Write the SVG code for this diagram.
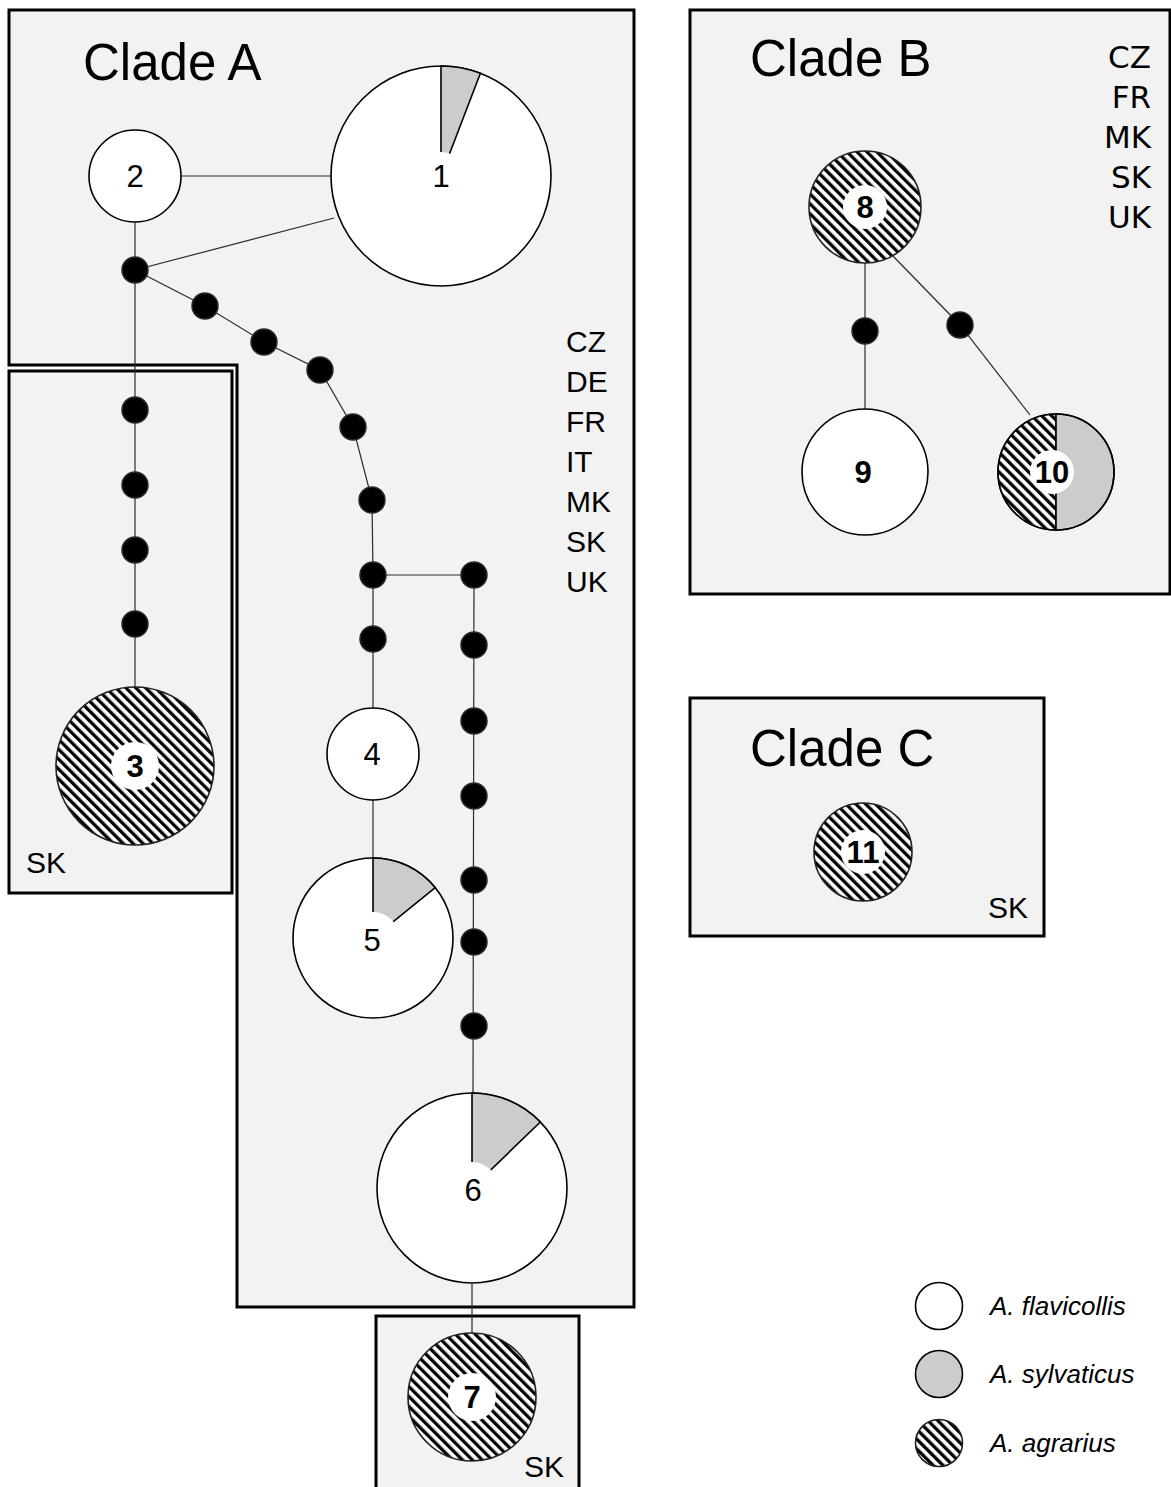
<svg xmlns="http://www.w3.org/2000/svg" width="1171" height="1487" viewBox="0 0 1171 1487">
  <style>
    .box { fill: #f2f2f2; stroke: #000; stroke-width: 3; }
    .edge { fill: none; stroke: #2b2b2b; stroke-width: 1.2; }
    .dot { fill: #000; stroke: #2a2a2a; stroke-width: 1.5; }
    .node { fill: #fff; stroke: #000; stroke-width: 1.6; }
    .hatched { fill: url(#hatch); stroke: #222; stroke-width: 1.6; }
    .grey { fill: #cccccc; stroke: #000; stroke-width: 1.6; }
    .hole { fill: #fff; stroke: none; }
    .title { font-family: "Liberation Sans", Arial, sans-serif; font-size: 51px; fill: #000; }
    .country { font-family: "Liberation Sans", Arial, sans-serif; font-size: 30px; fill: #000; }
    .countryB { font-family: "DejaVu Sans", sans-serif; font-size: 31px; fill: #000; text-anchor: end; }
    .lbl { font-family: "Liberation Sans", Arial, sans-serif; font-size: 31px; fill: #000; text-anchor: middle; }
    .lblb { font-family: "Liberation Sans", Arial, sans-serif; font-size: 31px; font-weight: bold; fill: #000; text-anchor: middle; }
    .legend { font-family: "Liberation Sans", Arial, sans-serif; font-size: 26px; font-style: italic; fill: #000; }
  </style>
  <defs>
    <pattern id="hatch" patternUnits="userSpaceOnUse" width="7" height="7" patternTransform="rotate(-45)">
      <rect x="0" y="0" width="7" height="7" fill="#fff"/>
      <rect x="0" y="0" width="3.3" height="7" fill="#000"/>
    </pattern>
  </defs>

  <!-- clade boxes -->
  <g id="clade-a-box">
    <polygon class="box" points="9,10 634,10 634,1307 237,1307 237,365 9,365"/>
  </g>
  <g id="sk-box-3">
    <rect class="box" x="9" y="371" width="223" height="522"/>
  </g>
  <g id="sk-box-7">
    <rect class="box" x="376" y="1316" width="203" height="180"/>
  </g>
  <g id="clade-b-box">
    <rect class="box" x="690" y="10" width="480" height="584"/>
  </g>
  <g id="clade-c-box">
    <rect class="box" x="690" y="698" width="354" height="238"/>
  </g>

  <!-- headings and country lists -->
  <g id="labels">
    <text class="title" x="83" y="80">Clade A</text>
    <text class="title" x="750" y="76">Clade B</text>
    <text class="title" x="750" y="766">Clade C</text>
    <text class="country" x="566" y="352">CZ</text>
    <text class="country" x="566" y="392">DE</text>
    <text class="country" x="566" y="432">FR</text>
    <text class="country" x="566" y="472">IT</text>
    <text class="country" x="566" y="512">MK</text>
    <text class="country" x="566" y="552">SK</text>
    <text class="country" x="566" y="592">UK</text>
    <text class="countryB" x="1151" y="68">CZ</text>
    <text class="countryB" x="1151" y="108">FR</text>
    <text class="countryB" x="1151" y="148">MK</text>
    <text class="countryB" x="1151" y="188">SK</text>
    <text class="countryB" x="1151" y="228">UK</text>
    <text class="country" x="26" y="873">SK</text>
    <text class="country" x="524" y="1477">SK</text>
    <text class="country" x="988" y="918">SK</text>
  </g>

  <!-- connectors -->
  <g id="connectors">
    <line class="edge" x1="181" y1="176" x2="331" y2="176"/>
    <line class="edge" x1="135" y1="270" x2="334" y2="218"/>
    <line class="edge" x1="135" y1="222" x2="135" y2="688"/>
    <polyline class="edge" points="135,270 205,306 264,342 320,370 353,427 372,500 373,575 373,708"/>
    <line class="edge" x1="373" y1="575" x2="474" y2="575"/>
    <line class="edge" x1="373" y1="800" x2="373" y2="858"/>
    <line class="edge" x1="474" y1="575" x2="473" y2="1093"/>
    <line class="edge" x1="472" y1="1284" x2="472" y2="1334"/>
    <line class="edge" x1="865" y1="263" x2="865" y2="410"/>
    <polyline class="edge" points="893,256 960,325 1030,415"/>
  </g>

  <!-- median vectors (unsampled haplotypes) -->
  <g id="median-vectors">
    <circle class="dot" cx="135" cy="270" r="13"/>
    <circle class="dot" cx="205" cy="306" r="13"/>
    <circle class="dot" cx="264" cy="342" r="13"/>
    <circle class="dot" cx="320" cy="370" r="13"/>
    <circle class="dot" cx="353" cy="427" r="13"/>
    <circle class="dot" cx="372" cy="500" r="13"/>
    <circle class="dot" cx="373" cy="575" r="13"/>
    <circle class="dot" cx="474" cy="575" r="13"/>
    <circle class="dot" cx="373" cy="639" r="13"/>
    <circle class="dot" cx="474" cy="645" r="13"/>
    <circle class="dot" cx="474" cy="721" r="13"/>
    <circle class="dot" cx="474" cy="796" r="13"/>
    <circle class="dot" cx="474" cy="880" r="13"/>
    <circle class="dot" cx="474" cy="942" r="13"/>
    <circle class="dot" cx="474" cy="1026" r="13"/>
    <circle class="dot" cx="135" cy="410" r="13"/>
    <circle class="dot" cx="135" cy="485" r="13"/>
    <circle class="dot" cx="135" cy="550" r="13"/>
    <circle class="dot" cx="135" cy="624" r="13"/>
    <circle class="dot" cx="865" cy="331" r="13"/>
    <circle class="dot" cx="960" cy="325" r="13"/>
  </g>

  <!-- haplotypes -->
  <g id="node-1">
    <circle class="node" cx="441" cy="176" r="110"/>
    <path class="grey" d="M441,176 L441,66 A110,110 0 0 1 480.4,73.3 Z"/>
    <circle class="hole" cx="441" cy="176" r="24"/>
    <text class="lbl" x="441" y="187">1</text>
  </g>
  <g id="node-2">
    <circle class="node" cx="135" cy="176" r="46"/>
    <text class="lbl" x="135" y="187">2</text>
  </g>
  <g id="node-3">
    <circle class="hatched" cx="135" cy="766" r="79"/>
    <circle class="hole" cx="135" cy="766" r="24"/>
    <text class="lblb" x="135" y="777">3</text>
  </g>
  <g id="node-4">
    <circle class="node" cx="373" cy="754" r="46"/>
    <text class="lbl" x="372" y="765">4</text>
  </g>
  <g id="node-5">
    <circle class="node" cx="373" cy="938" r="80"/>
    <path class="grey" d="M373,938 L373,858 A80,80 0 0 1 435.2,887.7 Z"/>
    <circle class="hole" cx="373" cy="938" r="26"/>
    <text class="lbl" x="372" y="951">5</text>
  </g>
  <g id="node-6">
    <circle class="node" cx="472" cy="1188" r="95"/>
    <path class="grey" d="M472,1188 L472,1093 A95,95 0 0 1 540.3,1122 Z"/>
    <circle class="hole" cx="472" cy="1188" r="26"/>
    <text class="lbl" x="473" y="1201">6</text>
  </g>
  <g id="node-7">
    <circle class="hatched" cx="472" cy="1397" r="64"/>
    <circle class="hole" cx="472" cy="1397" r="24"/>
    <text class="lblb" x="472" y="1408">7</text>
  </g>
  <g id="node-8">
    <circle class="hatched" cx="865" cy="207" r="56"/>
    <circle class="hole" cx="865" cy="207" r="22"/>
    <text class="lblb" x="865" y="218">8</text>
  </g>
  <g id="node-9">
    <circle class="node" cx="865" cy="472" r="63"/>
    <text class="lblb" x="863" y="483">9</text>
  </g>
  <g id="node-10">
    <path class="hatched" d="M1056,414 A58,58 0 0 0 1056,530 Z"/>
    <path class="grey" d="M1056,414 A58,58 0 0 1 1056,530 Z"/>
    <circle cx="1056" cy="472" r="58" fill="none" stroke="#000" stroke-width="1.6"/>
    <circle class="hole" cx="1052" cy="472" r="22"/>
    <text class="lblb" x="1052" y="483">10</text>
  </g>
  <g id="node-11">
    <circle class="hatched" cx="863" cy="852" r="49"/>
    <circle class="hole" cx="863" cy="852" r="22"/>
    <text class="lblb" x="863" y="863">11</text>
  </g>

  <!-- species key -->
  <g id="legend">
    <circle class="node" cx="939" cy="1306" r="23.5"/>
    <text class="legend" x="990" y="1315">A. flavicollis</text>
    <circle class="grey" cx="939" cy="1374" r="23.5"/>
    <text class="legend" x="990" y="1383">A. sylvaticus</text>
    <circle class="hatched" cx="939" cy="1443" r="23.5"/>
    <text class="legend" x="990" y="1452">A. agrarius</text>
  </g>
</svg>
